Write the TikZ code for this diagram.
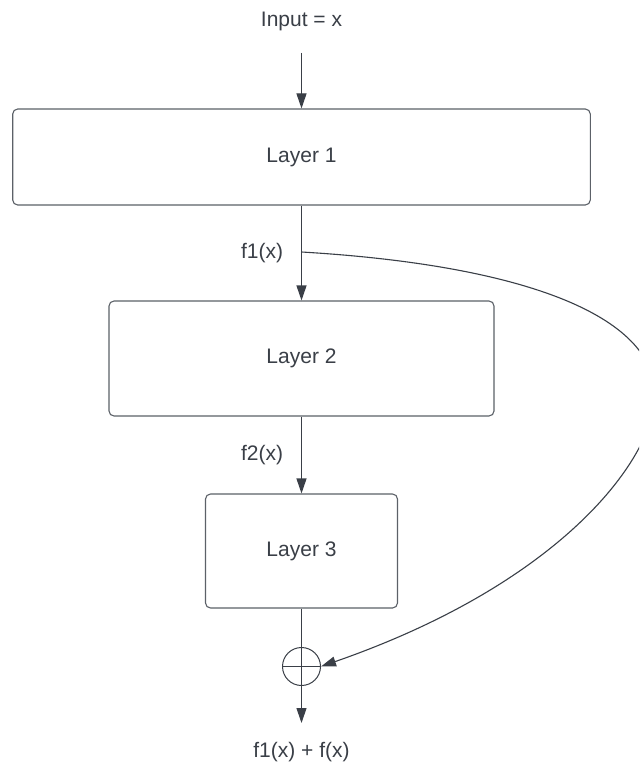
\documentclass[tikz,border=0pt]{standalone}
\usepackage{fontspec}
\setmainfont{Liberation Sans}
\usetikzlibrary{arrows.meta,calc}

\definecolor{ink}{HTML}{3A3F47}
\definecolor{edge}{HTML}{5C6168}

\tikzset{
  layerbox/.style={draw=edge, line width=1.1pt, rounded corners=5pt,
    fill=white, inner sep=0pt, text=ink, font=\fontsize{21}{25}\selectfont},
  lbl/.style={text=ink, inner sep=0pt, font=\fontsize{21}{25}\selectfont},
  flow/.style={draw=ink, line width=1.1pt,
    -{Triangle[length=15pt,width=10pt]}},
  plain/.style={draw=ink, line width=1.1pt},
}

\begin{document}
\begin{tikzpicture}[x=1pt,y=-1pt]
  \useasboundingbox (0,0) rectangle (639,770);
  \clip (0,0) rectangle (639,770);
  \fill[white] (0,0) rectangle (639,770);

  % labels
  \node[lbl] (input) at (301.5,21) {Input = x};
  \node[lbl] (f1lbl) at (262,253) {f1(x)};
  \node[lbl] (f2lbl) at (262,455) {f2(x)};
  \node[lbl] (outlbl) at (301.5,752) {f1(x) + f(x)};

  % layer boxes
  \node[layerbox, minimum width=577.6pt, minimum height=96pt] (L1) at (301.5,157) {Layer 1};
  \node[layerbox, minimum width=385pt, minimum height=115pt] (L2) at (301.5,358.5) {Layer 2};
  \node[layerbox, minimum width=192pt, minimum height=114pt] (L3) at (301.5,551) {Layer 3};

  % summation junction
  \node[circle, draw=ink, line width=1pt, minimum size=38pt, inner sep=0pt] (sum) at (301.5,666.5) {};

  \coordinate (inStart) at (301.5,53);
  \coordinate (branch) at (301.5,252);
  \coordinate (outEnd) at (301.5,723);
  \coordinate (bulge) at (655,395);

  % main flow
  \draw[flow] (inStart) -- (L1.north);
  \draw[flow] (L1.south) -- (L2.north);
  \draw[flow] (L2.south) -- (L3.north);
  \draw[plain] (L3.south) -- (sum.north);
  \draw[plain] (sum.north) -- (sum.south);
  \draw[plain] (sum.west) -- (sum.east);
  \draw[flow] (sum.south) -- (outEnd);

  % skip connection, swinging out past the right edge
  \draw[flow] (branch) .. controls ($(branch)+(220,13)$) and ($(bulge)+(0,-80)$) .. (bulge)
    .. controls ($(bulge)+(0,60)$) and ($(sum.east)+(246,-85.5)$) .. (sum.east);
\end{tikzpicture}
\end{document}
